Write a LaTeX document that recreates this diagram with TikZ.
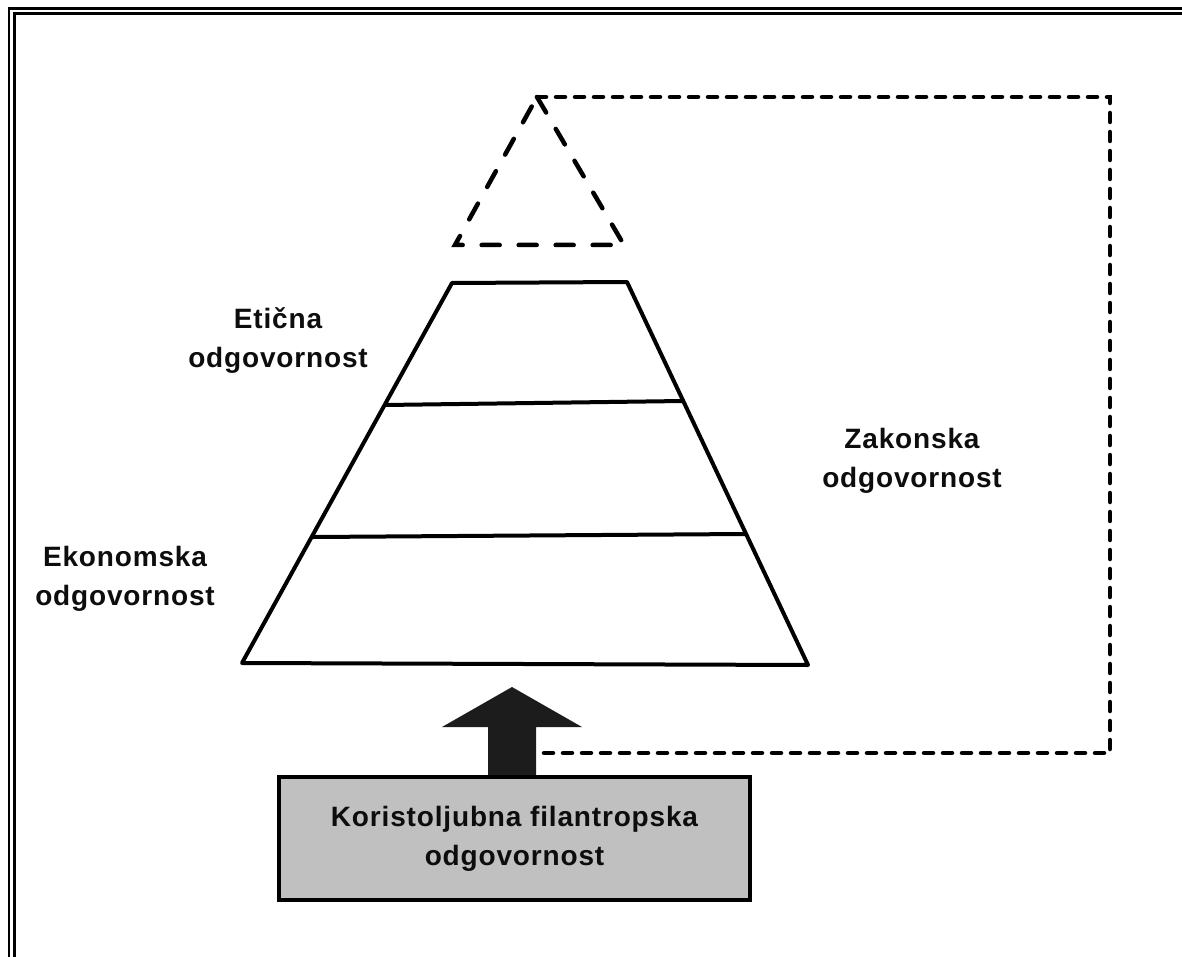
\documentclass[tikz,border=0pt]{standalone}
\usepackage{fontspec}
\setmainfont{Liberation Sans}
\newfontfamily\labfont{Liberation Sans Bold}[LetterSpace=3]
\begin{document}
\begin{tikzpicture}[x=1pt,y=-1pt,
  lbl/.style={font=\labfont\fontsize{28}{39}\selectfont, align=center, inner sep=0pt, text=black!95},
  pyr/.style={line width=4pt, line join=round},
  tri/.style={line width=4.5pt, dash pattern=on 18pt off 19pt, line cap=round},
  conn/.style={line width=4.5pt, dash pattern=on 9pt off 10pt, line cap=round},
  frame/.style={line width=2.8pt, black}]
\useasboundingbox (0,0) rectangle (1182,957);
% double frame (right and bottom run off the page)
\draw[frame] (9,980) -- (9,8.5) -- (1200,8.5);
\draw[frame] (14.5,980) -- (14.5,13.5) -- (1200,13.5);
% pyramid
\coordinate (tl) at (452,283);
\coordinate (tr) at (627,282);
\coordinate (bl) at (242,663);
\coordinate (br) at (808,665);
\draw[pyr] (tl) -- (tr) -- (br) -- (bl) -- cycle;
\coordinate (l1a) at (385,405);
\coordinate (l1b) at (683,401);
\coordinate (l2a) at (313,537);
\coordinate (l2b) at (745,534);
\draw[pyr] (l1a) -- (l1b);
\draw[pyr] (l2a) -- (l2b);
% dashed triangle
\coordinate (apex) at (537,97);
\coordinate (ta) at (455,245);
\coordinate (tb) at (624,245);
\draw[tri] (apex) -- (tb) -- (ta) -- cycle;
% labels
\node[lbl] (eti) at (278,341) {Etična\\odgovornost};
\node[lbl] (zak) at (912,461) {Zakonska\\odgovornost};
\node[lbl] (eko) at (125,579) {Ekonomska\\odgovornost};
% box
\node[draw, line width=4.5pt, fill={rgb,255:red,192;green,192;blue,192},
  minimum width=471pt, minimum height=123pt, lbl] (box) at (514.5,838.5)
  {Koristoljubna filantropska\\odgovornost};
% block arrow
\coordinate (ar) at (536,753);
\fill[fill={rgb,255:red,28;green,28;blue,28}] (box.north -| 488,0) -- (488,727) -- (442,727) -- (512,687)
  -- (582,727) -- (536,727) -- (box.north -| 536,0) -- cycle;
% dashed connector
\coordinate (c1) at (1110,97);
\coordinate (c2) at (1110,753);
\draw[conn] (apex) -- (c1) -- (c2) -- (ar);
\end{tikzpicture}
\end{document}
